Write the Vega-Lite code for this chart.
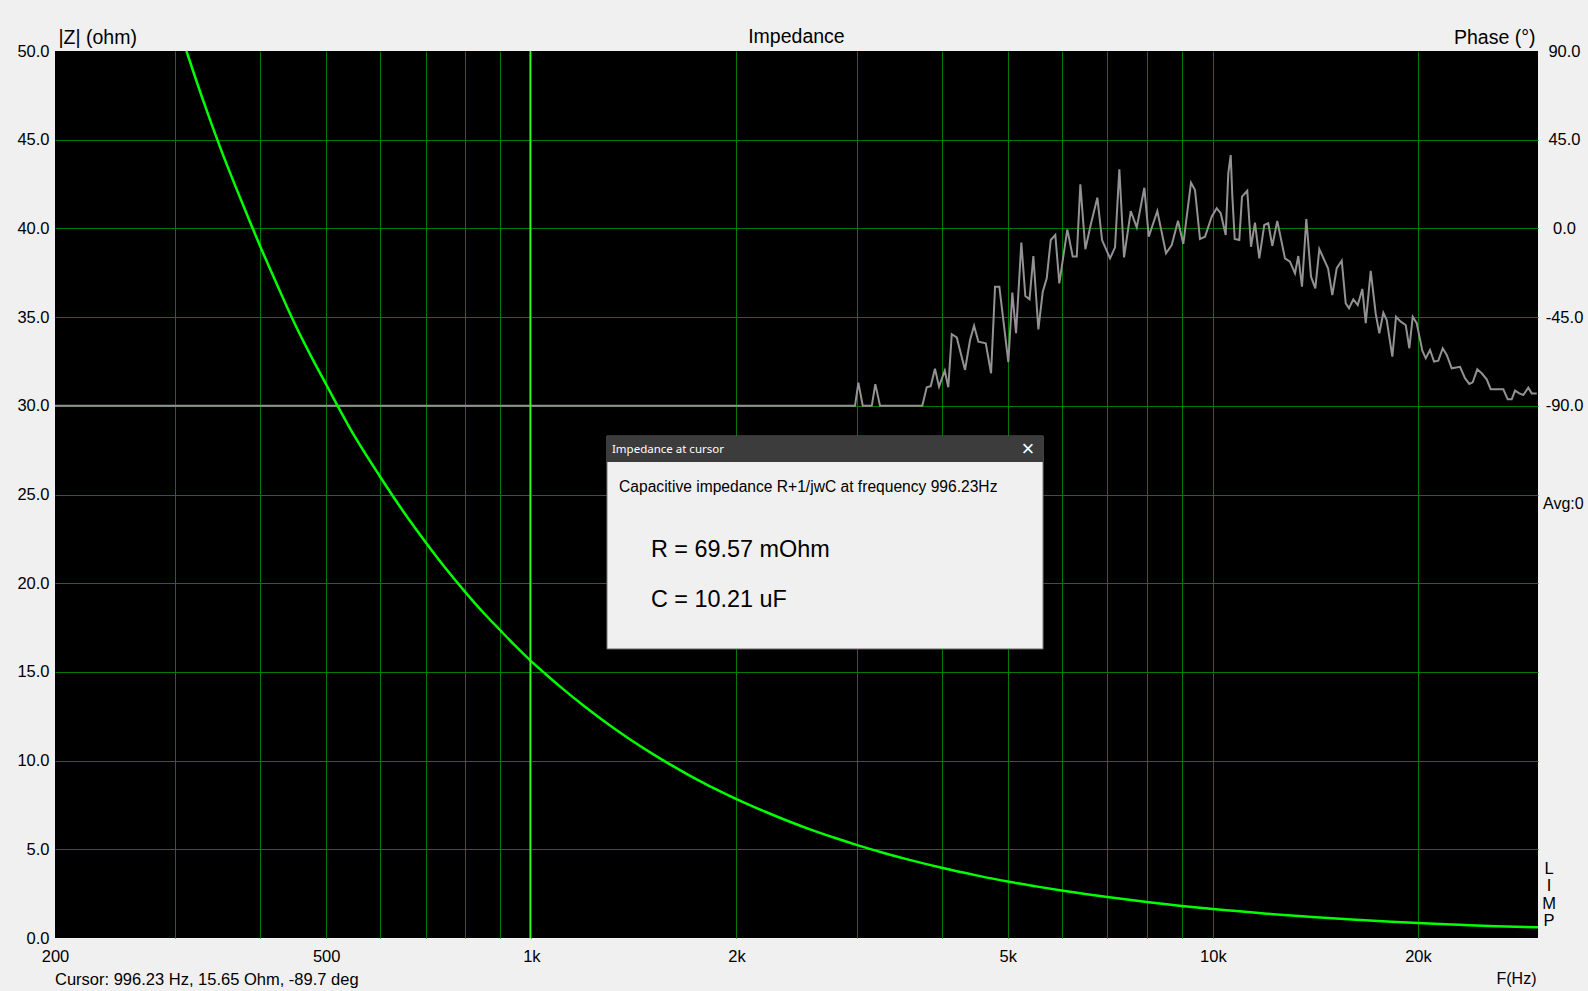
{
  "$schema": "https://vega.github.io/schema/vega-lite/v6.json",
  "width": 1483,
  "height": 887,
  "autosize": {"type": "none"},
  "padding": {"left": 55, "top": 51, "right": 50, "bottom": 53},
  "background": "#f0f0f0",
  "config": {
    "font": "Liberation Sans",
    "view": {"fill": "#000000", "stroke": null},
    "axis": {"labelColor": "#000000", "titleColor": "#000000", "titleFontWeight": "normal"},
    "text": {"color": "#000000"}
  },
  "datasets": {
    "z": [
      {"f": 311.8, "z": 50}, {"f": 330, "z": 47.2}, {"f": 350, "z": 44.5}, {"f": 375, "z": 41.6},
      {"f": 400, "z": 39.0}, {"f": 425, "z": 36.7}, {"f": 450, "z": 34.6}, {"f": 475, "z": 32.8},
      {"f": 500, "z": 31.2}, {"f": 550, "z": 28.3}, {"f": 600, "z": 26.0}, {"f": 650, "z": 24.0},
      {"f": 700, "z": 22.3}, {"f": 750, "z": 20.8}, {"f": 800, "z": 19.5}, {"f": 850, "z": 18.35},
      {"f": 900, "z": 17.35}, {"f": 950, "z": 16.42}, {"f": 996.23, "z": 15.65}, {"f": 1050, "z": 14.87},
      {"f": 1100, "z": 14.2}, {"f": 1200, "z": 13.02}, {"f": 1300, "z": 12.02}, {"f": 1400, "z": 11.16},
      {"f": 1500, "z": 10.42}, {"f": 1600, "z": 9.77}, {"f": 1700, "z": 9.2}, {"f": 1800, "z": 8.69},
      {"f": 1900, "z": 8.24}, {"f": 2000, "z": 7.83}, {"f": 2200, "z": 7.13}, {"f": 2400, "z": 6.54},
      {"f": 2600, "z": 6.04}, {"f": 2800, "z": 5.62}, {"f": 3000, "z": 5.25}, {"f": 3300, "z": 4.78},
      {"f": 3600, "z": 4.39}, {"f": 4000, "z": 3.96}, {"f": 4500, "z": 3.53}, {"f": 5000, "z": 3.18},
      {"f": 5500, "z": 2.91}, {"f": 6000, "z": 2.68}, {"f": 7000, "z": 2.31}, {"f": 8000, "z": 2.03},
      {"f": 9000, "z": 1.81}, {"f": 10000, "z": 1.63}, {"f": 12000, "z": 1.37}, {"f": 14000, "z": 1.18},
      {"f": 16000, "z": 1.04}, {"f": 18000, "z": 0.93}, {"f": 20000, "z": 0.84}, {"f": 23000, "z": 0.74},
      {"f": 26000, "z": 0.66}, {"f": 30000, "z": 0.6}
    ],
    "phase": [
      {"f": 200, "p": -90}, {"f": 2985, "p": -90}, {"f": 3019, "p": -78.3}, {"f": 3064, "p": -90},
      {"f": 3159, "p": -90}, {"f": 3197, "p": -79}, {"f": 3248, "p": -90}, {"f": 3747, "p": -90},
      {"f": 3803, "p": -80.6}, {"f": 3855, "p": -80}, {"f": 3911, "p": -71.2}, {"f": 3965, "p": -80.3},
      {"f": 4042, "p": -72.2}, {"f": 4091, "p": -80.6}, {"f": 4139, "p": -53.7}, {"f": 4209, "p": -55.3},
      {"f": 4329, "p": -71.8}, {"f": 4403, "p": -56.6}, {"f": 4463, "p": -49.4}, {"f": 4529, "p": -57.5},
      {"f": 4643, "p": -58.3}, {"f": 4727, "p": -73.5}, {"f": 4791, "p": -29.6}, {"f": 4861, "p": -29.6},
      {"f": 5011, "p": -67.9}, {"f": 5079, "p": -32.6}, {"f": 5143, "p": -53.2}, {"f": 5236, "p": -7.2},
      {"f": 5307, "p": -34.3}, {"f": 5383, "p": -36}, {"f": 5453, "p": -14}, {"f": 5546, "p": -51.2},
      {"f": 5629, "p": -32.1}, {"f": 5705, "p": -25.3}, {"f": 5783, "p": -5.9}, {"f": 5873, "p": -3.3},
      {"f": 5953, "p": -27.9}, {"f": 6116, "p": -0.5}, {"f": 6229, "p": -14.3}, {"f": 6314, "p": -14.3},
      {"f": 6391, "p": 22.4}, {"f": 6500, "p": -10.6}, {"f": 6627, "p": 2.6}, {"f": 6769, "p": 15.6},
      {"f": 6878, "p": -5.9}, {"f": 7066, "p": -15.2}, {"f": 7186, "p": -9.6}, {"f": 7291, "p": 30},
      {"f": 7408, "p": -14.7}, {"f": 7578, "p": 8.8}, {"f": 7733, "p": 0.5}, {"f": 7934, "p": 20.6},
      {"f": 8053, "p": -4.2}, {"f": 8290, "p": 8.8}, {"f": 8537, "p": -12.6}, {"f": 8703, "p": -8.4},
      {"f": 8890, "p": 3.9}, {"f": 9050, "p": -7.9}, {"f": 9289, "p": 23.2}, {"f": 9415, "p": 19.5},
      {"f": 9575, "p": -5.4}, {"f": 9740, "p": -4.2}, {"f": 9961, "p": 5.9}, {"f": 10131, "p": 10.2},
      {"f": 10269, "p": 7.7}, {"f": 10444, "p": -3.3}, {"f": 10536, "p": 28}, {"f": 10622, "p": 37.2},
      {"f": 10679, "p": 16.9}, {"f": 10766, "p": -5.4}, {"f": 10935, "p": -5.9}, {"f": 11035, "p": 16.1},
      {"f": 11234, "p": 19.1}, {"f": 11376, "p": -9.3}, {"f": 11530, "p": 2.9}, {"f": 11699, "p": -15.2},
      {"f": 11898, "p": 1.7}, {"f": 12060, "p": 2.6}, {"f": 12224, "p": -8.9}, {"f": 12432, "p": 3.8},
      {"f": 12760, "p": -15.2}, {"f": 12977, "p": -16.9}, {"f": 13199, "p": -22.8}, {"f": 13347, "p": -14},
      {"f": 13515, "p": -29.6}, {"f": 13713, "p": 4.8}, {"f": 13933, "p": -24.5}, {"f": 14137, "p": -30.4},
      {"f": 14330, "p": -10.5}, {"f": 14757, "p": -20.2}, {"f": 14973, "p": -33.8}, {"f": 15198, "p": -20.2},
      {"f": 15457, "p": -16.4}, {"f": 15667, "p": -38}, {"f": 15842, "p": -40.5}, {"f": 16075, "p": -36},
      {"f": 16316, "p": -38.9}, {"f": 16571, "p": -30.7}, {"f": 16763, "p": -48.1}, {"f": 17048, "p": -21.5},
      {"f": 17339, "p": -43.4}, {"f": 17551, "p": -53.2}, {"f": 17790, "p": -42.8}, {"f": 17995, "p": -46.5},
      {"f": 18339, "p": -65.1}, {"f": 18569, "p": -44.8}, {"f": 18867, "p": -47.3}, {"f": 19188, "p": -49},
      {"f": 19423, "p": -60.8}, {"f": 19647, "p": -44.8}, {"f": 19914, "p": -48.1}, {"f": 20295, "p": -62},
      {"f": 20530, "p": -65.9}, {"f": 20830, "p": -61.7}, {"f": 21114, "p": -67.6}, {"f": 21423, "p": -67.1},
      {"f": 21744, "p": -60.8}, {"f": 22040, "p": -64.2}, {"f": 22415, "p": -71}, {"f": 23053, "p": -70.2},
      {"f": 23442, "p": -76}, {"f": 23786, "p": -78.9}, {"f": 24060, "p": -78.1}, {"f": 24437, "p": -71.5},
      {"f": 24803, "p": -73.5}, {"f": 25226, "p": -76.6}, {"f": 25570, "p": -81.6}, {"f": 26683, "p": -81.6},
      {"f": 27083, "p": -86.7}, {"f": 27451, "p": -86.7}, {"f": 27759, "p": -82.3}, {"f": 28164, "p": -83.7},
      {"f": 28547, "p": -84.5}, {"f": 29033, "p": -80.8}, {"f": 29369, "p": -83.7}, {"f": 29870, "p": -83.7}
    ],
    "cursor": [{"f": 996.23, "z": 15.65, "p": -89.7}],
    "note": [{"note": "annotation"}]
  },
  "layer": [
    {
      "data": {"name": "phase"},
      "mark": {"type": "line", "color": "#929292", "strokeWidth": 2},
      "encoding": {
        "x": {
          "field": "f",
          "type": "quantitative",
          "scale": {"type": "log", "domain": [200, 30000], "nice": false},
          "axis": {
            "values": [200, 300, 400, 500, 600, 700, 800, 900, 1000, 2000, 3000, 4000, 5000, 6000, 7000, 8000, 9000, 10000, 20000],
            "labelExpr": "indexof([200,500,1000,2000,5000,10000,20000], datum.value) >= 0 ? (datum.value >= 1000 ? (datum.value/1000) + 'k' : '' + datum.value) : ''",
            "grid": true,
            "gridColor": {"condition": {"test": "datum.value == 200", "value": "rgba(0,0,0,0)"}, "value": "#007a00"},
            "gridWidth": 1,
            "domain": false,
            "ticks": false,
            "labelFontSize": 16.5,
            "labelPadding": 10,
            "labelFlush": false,
            "labelOverlap": false,
            "title": "F(Hz)",
            "titleFontSize": 16,
            "titleAlign": "right",
            "titleBaseline": "alphabetic",
            "titleAnchor": "end",
            "titleX": 1481,
            "titleY": 45.5
          }
        },
        "y": {
          "field": "p",
          "type": "quantitative",
          "scale": {"domain": [-360, 90], "nice": false, "zero": false},
          "axis": {
            "orient": "right",
            "values": [-90, -45, 0, 45, 90],
            "labelExpr": "replace(format(datum.value, '.1f'), '\u2212', '-')",
            "grid": false,
            "domain": false,
            "ticks": false,
            "labelFontSize": 16.5,
            "labelAlign": "center",
            "labelPadding": 26,
            "title": "Phase (°)",
            "titleFontSize": 19.5,
            "titleAngle": 0,
            "titleAlign": "right",
            "titleBaseline": "alphabetic",
            "titleX": -3,
            "titleY": -7.7
          }
        }
      }
    },
    {
      "data": {"name": "z"},
      "mark": {"type": "line", "color": "#00ff00", "strokeWidth": 2.5, "interpolate": "monotone"},
      "encoding": {
        "x": {"field": "f", "type": "quantitative", "scale": {"type": "log", "domain": [200, 30000], "nice": false}},
        "y": {
          "field": "z",
          "type": "quantitative",
          "scale": {"domain": [0, 50], "nice": false, "zero": false},
          "axis": {
            "orient": "left",
            "values": [0, 5, 10, 15, 20, 25, 30, 35, 40, 45, 50],
            "format": ".1f",
            "grid": true,
            "gridColor": {"condition": {"test": "datum.value == 0 || datum.value == 50", "value": "rgba(0,0,0,0)"}, "value": "#007a00"},
            "domain": false,
            "ticks": false,
            "labelFontSize": 16.5,
            "labelPadding": 6,
            "title": "|Z| (ohm)",
            "titleFontSize": 19.5,
            "titleAngle": 0,
            "titleAlign": "left",
            "titleBaseline": "alphabetic",
            "titleX": 3,
            "titleY": -7.7
          }
        }
      }
    },
    {
      "data": {"name": "cursor"},
      "mark": {"type": "rule", "color": "#40ff20", "strokeWidth": 1.5},
      "encoding": {
        "x": {"field": "f", "type": "quantitative", "scale": {"type": "log", "domain": [200, 30000], "nice": false}}
      }
    },
    {
      "data": {"name": "note"},
      "mark": {"type": "rect", "fill": "#f0f0f0", "stroke": "#646464", "strokeWidth": 1},
      "encoding": {
        "x": {"datum": 1291}, "x2": {"datum": 5635},
        "y": {"datum": 28.3, "scale": {"domain": [0, 50], "nice": false, "zero": false}, "axis": null}, "y2": {"datum": 16.29}
      }
    },
    {
      "data": {"name": "note"},
      "mark": {"type": "rect", "fill": "#3c3c3c"},
      "encoding": {
        "x": {"datum": 1291}, "x2": {"datum": 5635},
        "y": {"datum": 28.3, "scale": {"domain": [0, 50], "nice": false, "zero": false}, "axis": null}, "y2": {"datum": 26.83}
      }
    },
    {
      "data": {"name": "note"},
      "mark": {"type": "text", "text": "Impedance at cursor", "font": "Noto Sans", "fontSize": 11.5, "color": "#ffffff", "align": "left", "baseline": "alphabetic"},
      "encoding": {"x": {"datum": 1313}, "y": {"datum": 27.32, "scale": {"domain": [0, 50], "nice": false, "zero": false}, "axis": null}}
    },
    {
      "data": {"name": "note"},
      "mark": {"type": "text", "text": "×", "fontSize": 22, "color": "#ffffff", "align": "center", "baseline": "alphabetic"},
      "encoding": {"x": {"datum": 5355}, "y": {"datum": 27.15, "scale": {"domain": [0, 50], "nice": false, "zero": false}, "axis": null}}
    },
    {
      "data": {"name": "note"},
      "mark": {"type": "text", "text": "Capacitive impedance R+1/jwC at frequency 996.23Hz", "fontSize": 15.6, "align": "left", "baseline": "alphabetic"},
      "encoding": {"x": {"datum": 1345}, "y": {"datum": 25.12, "scale": {"domain": [0, 50], "nice": false, "zero": false}, "axis": null}}
    },
    {
      "data": {"name": "note"},
      "mark": {"type": "text", "text": "R = 69.57 mOhm", "fontSize": 23.4, "align": "left", "baseline": "alphabetic"},
      "encoding": {"x": {"datum": 1498}, "y": {"datum": 21.46, "scale": {"domain": [0, 50], "nice": false, "zero": false}, "axis": null}}
    },
    {
      "data": {"name": "note"},
      "mark": {"type": "text", "text": "C = 10.21 uF", "fontSize": 23.4, "align": "left", "baseline": "alphabetic"},
      "encoding": {"x": {"datum": 1498}, "y": {"datum": 18.67, "scale": {"domain": [0, 50], "nice": false, "zero": false}, "axis": null}}
    },
    {
      "data": {"name": "note"},
      "mark": {"type": "text", "text": "Impedance", "fontSize": 19.5, "align": "center", "baseline": "alphabetic"},
      "encoding": {"x": {"datum": 2449}, "y": {"datum": 50.43, "scale": {"domain": [0, 50], "nice": false, "zero": false}, "axis": null}}
    },
    {
      "data": {"name": "note"},
      "mark": {"type": "text", "text": "Cursor: 996.23 Hz, 15.65 Ohm, -89.7 deg", "fontSize": 16.5, "align": "left", "baseline": "alphabetic"},
      "encoding": {"x": {"datum": 200}, "y": {"datum": -2.65, "scale": {"domain": [0, 50], "nice": false, "zero": false}, "axis": null}}
    },
    {
      "data": {"name": "note"},
      "mark": {"type": "text", "text": "Avg:0", "fontSize": 16, "align": "left", "baseline": "alphabetic", "dx": 5},
      "encoding": {"x": {"datum": 30000}, "y": {"datum": 24.17, "scale": {"domain": [0, 50], "nice": false, "zero": false}, "axis": null}}
    },
    {
      "data": {"name": "note"},
      "mark": {"type": "text", "text": ["L", "I", "M", "P"], "lineHeight": 17.5, "fontSize": 16.5, "align": "center", "baseline": "alphabetic", "dx": 11},
      "encoding": {"x": {"datum": 30000}, "y": {"datum": 3.61, "scale": {"domain": [0, 50], "nice": false, "zero": false}, "axis": null}}
    }
  ],
  "resolve": {"scale": {"y": "independent"}}
}
